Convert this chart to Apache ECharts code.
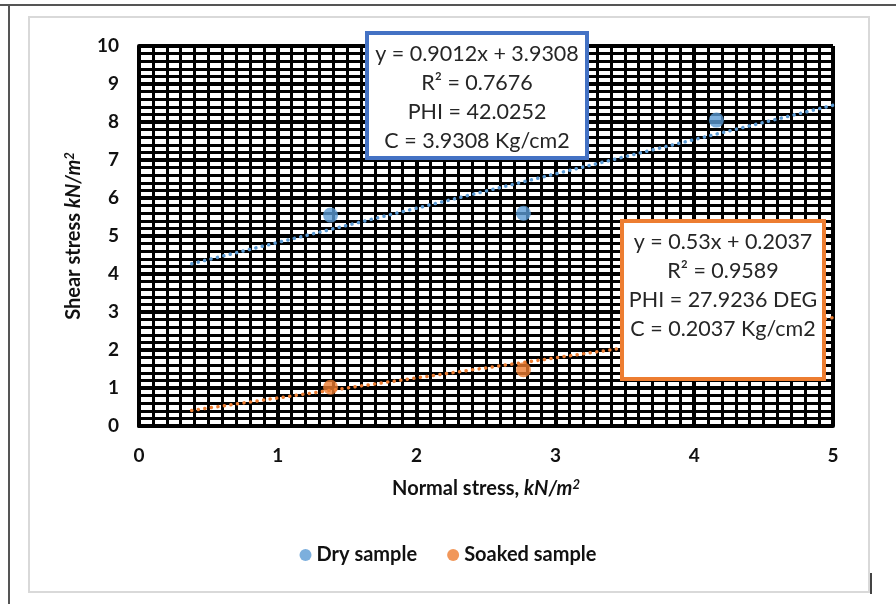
<!DOCTYPE html>
<html>
<head>
<meta charset="utf-8">
<script src="https://cdn.jsdelivr.net/npm/echarts@6/dist/echarts.min.js"></script>
<style>
html,body{margin:0;padding:0;background:#fff;}
#c{width:896px;height:604px;}
</style>
</head>
<body>
<div id="c"></div>
<script>
// Data
const dryData = [[1.38, 5.55], [2.77, 5.6], [4.16, 8.05]];
const soakedData = [[1.38, 1.02], [2.77, 1.48], [4.16, 2.5]];
const dryTrend = [[0.38, 4.27], [5, 8.44]];
const soakedTrend = [[0.38, 0.41], [5, 2.85]];
const dryBoxLines = ['y = 0.9012x + 3.9308', 'R² = 0.7676', 'PHI = 42.0252', 'C = 3.9308 Kg/cm2'];
const soakedBoxLines = ['y = 0.53x + 0.2037', 'R² = 0.9589', 'PHI = 27.9236 DEG', 'C = 0.2037 Kg/cm2'];
const seriesNames = ['Dry sample', 'Soaked sample'];

const FONT = 'Lato, "Open Sans", sans-serif';
const BLUE = '#5B9BD5', ORANGE = '#ED7D31';

const chart = echarts.init(document.getElementById('c'), null, {renderer: 'canvas'});

function box(x, y, w, h, color, lines, cx) {
  return [
    {type: 'rect', z: 100, shape: {x: x, y: y, width: w, height: h},
     style: {fill: '#fff', stroke: color, lineWidth: 4}},
    {type: 'text', z: 101, x: cx, y: y + 6,
     style: {text: lines.join('\n'), font: '21.5px ' + FONT, fill: '#262626', align: 'center',
             verticalAlign: 'top', lineHeight: 29.3}}
  ];
}

const rich = {
  b: {fontFamily: FONT, fontWeight: 'bold', fontSize: 20, color: '#111'},
  i: {fontFamily: FONT, fontWeight: 'bold', fontStyle: 'italic', fontSize: 20, color: '#111'},
  s: {fontFamily: FONT, fontWeight: 'bold', fontStyle: 'italic', fontSize: 13, color: '#111', verticalAlign: 'top', padding: [0,0,9,0]}
};

const option = {
  backgroundColor: '#fff',
  animation: false,
  grid: {left: 139, right: 63, top: 46, bottom: 178, containLabel: false},
  legend: {
    bottom: 34, left: 'center', itemWidth: 12, itemHeight: 12, itemGap: 30,
    icon: 'circle',
    data: seriesNames,
    textStyle: {fontFamily: FONT, fontWeight: 'bold', fontSize: 20, color: '#111'}
  },
  xAxis: {
    type: 'value', min: 0, max: 5, interval: 1,
    name: '{b|Normal stress, }{i|kN/m}{s|2}', nameLocation: 'middle', nameGap: 52,
    nameTextStyle: {rich: rich},
    axisLine: {show: true, lineStyle: {color: '#000', width: 4}},
    axisTick: {show: false},
    axisLabel: {margin: 20, fontFamily: FONT, fontWeight: 'bold', fontSize: 19, color: '#111'},
    splitLine: {show: true, lineStyle: {color: '#000', width: 4}},
    minorTick: {show: false, splitNumber: 10},
    minorSplitLine: {show: true, lineStyle: {color: '#000', width: 3}}
  },
  yAxis: {
    type: 'value', min: 0, max: 10, interval: 1,
    name: '{b|Shear stress }{i|kN/m}{s|2}', nameLocation: 'middle', nameGap: 54, nameRotate: 90,
    nameTextStyle: {rich: rich},
    axisLine: {show: true, lineStyle: {color: '#000', width: 4}},
    axisTick: {show: false},
    axisLabel: {margin: 20, fontFamily: FONT, fontWeight: 'bold', fontSize: 19, color: '#111'},
    splitLine: {show: true, lineStyle: {color: '#000', width: 4}},
    minorTick: {show: false, splitNumber: 5},
    minorSplitLine: {show: true, lineStyle: {color: '#000', width: 3}}
  },
  series: [
    {name: seriesNames[0], type: 'scatter', data: dryData, symbolSize: 15,
     itemStyle: {color: BLUE}, z: 5},
    {name: seriesNames[1], type: 'scatter', data: soakedData, symbolSize: 15,
     itemStyle: {color: ORANGE}, z: 5},
    {name: 'dryTrend', type: 'line', data: dryTrend, symbol: 'none', z: 4,
     lineStyle: {color: BLUE, width: 3.5, type: [0.1, 6.5], cap: 'round'}},
    {name: 'soakedTrend', type: 'line', data: soakedTrend, symbol: 'none', z: 4,
     lineStyle: {color: ORANGE, width: 3.5, type: [0.1, 6.5], cap: 'round'}}
  ],
  graphic: [
    {type: 'line', z: 0, shape: {x1: 0, y1: 5, x2: 896, y2: 5}, style: {stroke: '#555', lineWidth: 2}},
    {type: 'line', z: 0, shape: {x1: 9, y1: 5, x2: 9, y2: 604}, style: {stroke: '#555', lineWidth: 2}},
    {type: 'rect', z: 0, shape: {x: 29, y: 17, width: 840, height: 575},
     style: {fill: 'none', stroke: '#d9d9d9', lineWidth: 2}},
    {type: 'line', z: 0, shape: {x1: 871, y1: 573, x2: 871, y2: 594}, style: {stroke: '#444', lineWidth: 2}}
  ].concat(box(367, 33, 220, 125, '#4472C4', dryBoxLines, 477))
   .concat(box(622, 221, 202, 158, ORANGE, soakedBoxLines, 723))
};
chart.setOption(option);
</script>
</body>
</html>
